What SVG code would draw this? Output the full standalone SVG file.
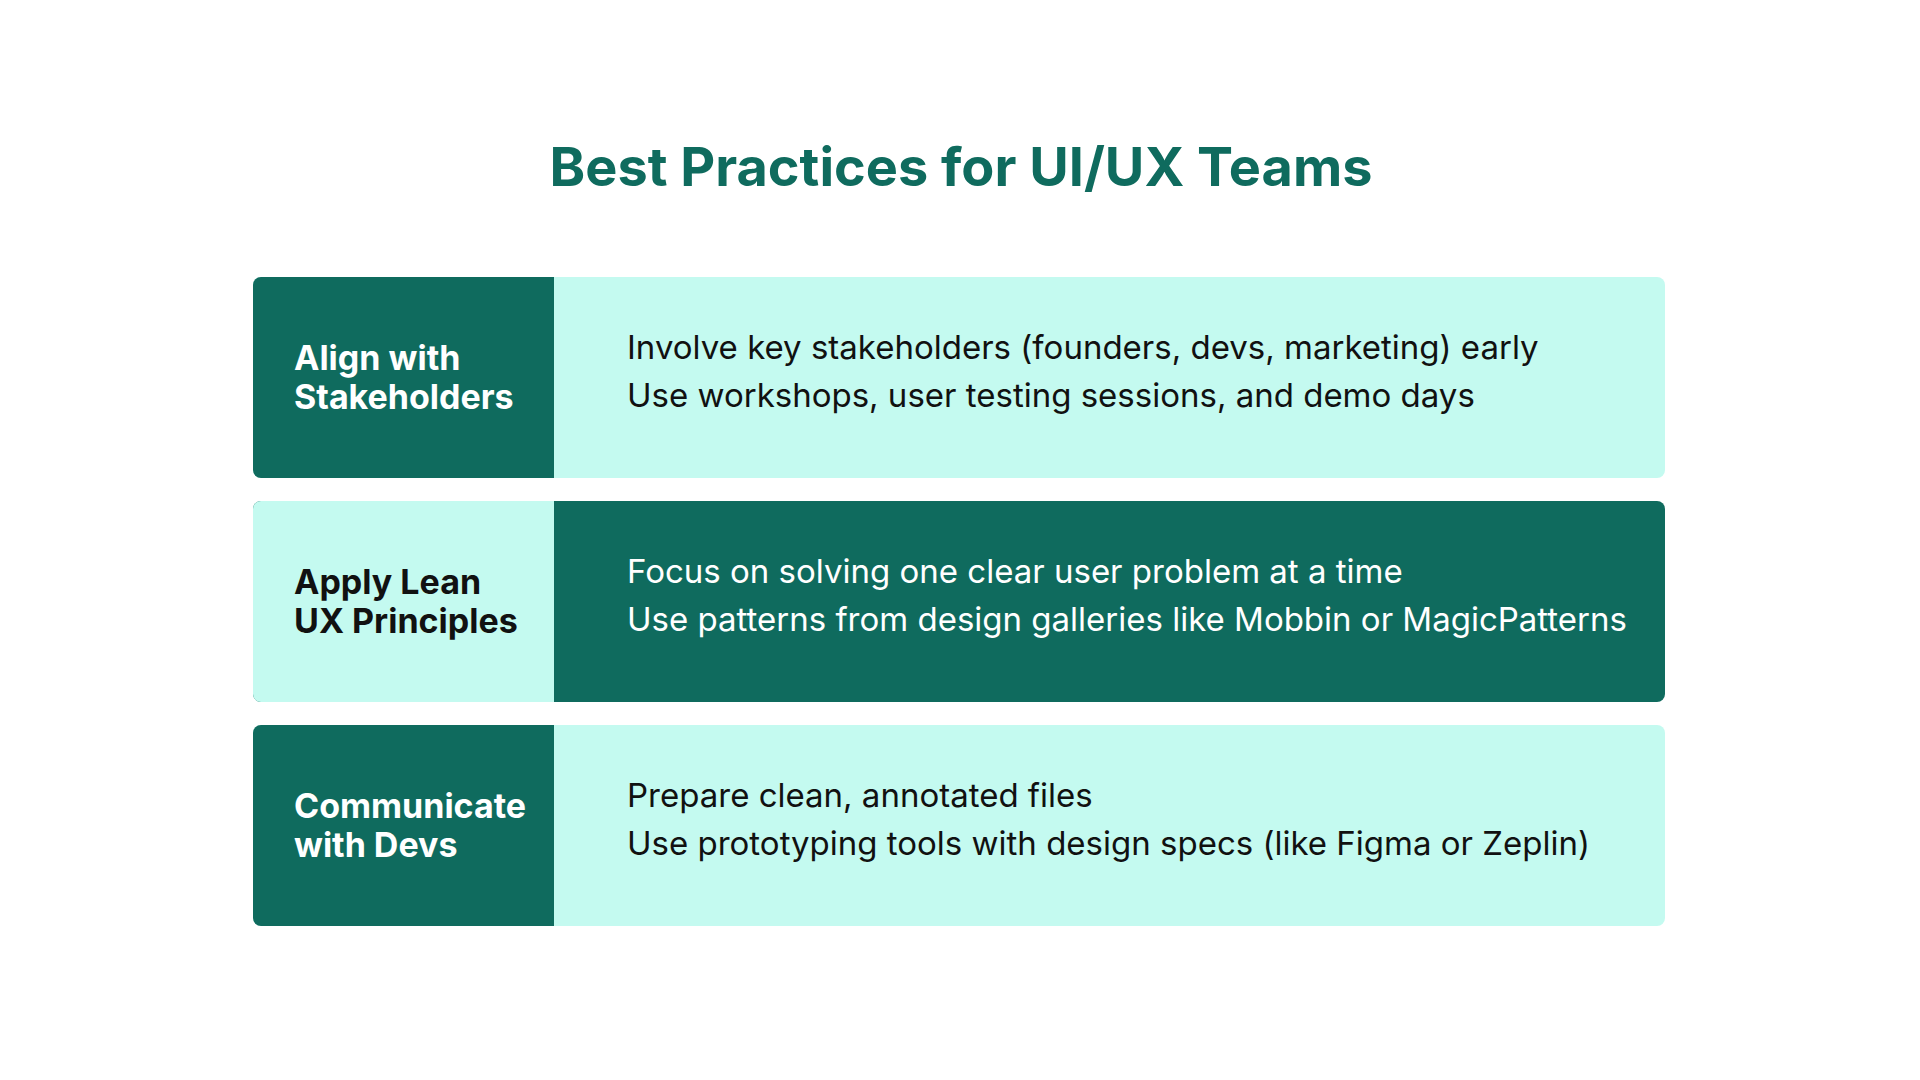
<svg xmlns="http://www.w3.org/2000/svg" width="1920" height="1080" viewBox="0 0 1920 1080">
<style>
.title{font-family:Inter,"Liberation Sans",sans-serif;font-weight:700;font-size:54px;fill:#0F6B5E}
.lab{font-family:Inter,"Liberation Sans",sans-serif;font-weight:700;font-size:34px}
.body{font-family:Inter,"Liberation Sans",sans-serif;font-size:33px}
.dark{fill:#0F6B5E}.light{fill:#C4FAF0}
.tw{fill:#FFFFFF}.tb{fill:#111111}
</style>
<rect width="1920" height="1080" fill="#FFFFFF"/>
<text class="title" x="961" y="186" text-anchor="middle">Best Practices for UI/UX Teams</text>
<g id="row1">
<rect class="light" x="253" y="277" width="1412" height="201" rx="8"/>
<path class="dark" d="M261 277H554V478H261A8 8 0 0 1 253 470V285A8 8 0 0 1 261 277Z"/>
<text class="lab tw" x="294" y="370">Align with</text>
<text class="lab tw" x="294" y="409">Stakeholders</text>
<text class="body tb" x="627" y="359">Involve key stakeholders (founders, devs, marketing) early</text>
<text class="body tb" x="627" y="407">Use workshops, user testing sessions, and demo days</text>
</g>
<g id="row2">
<rect class="dark" x="253" y="501" width="1412" height="201" rx="8"/>
<path class="light" d="M261 501H554V702H261A8 8 0 0 1 253 694V509A8 8 0 0 1 261 501Z"/>
<text class="lab tb" x="294" y="594">Apply Lean</text>
<text class="lab tb" x="294" y="633">UX Principles</text>
<text class="body tw" x="627" y="583">Focus on solving one clear user problem at a time</text>
<text class="body tw" x="627" y="631">Use patterns from design galleries like Mobbin or MagicPatterns</text>
</g>
<g id="row3">
<rect class="light" x="253" y="725" width="1412" height="201" rx="8"/>
<path class="dark" d="M261 725H554V926H261A8 8 0 0 1 253 918V733A8 8 0 0 1 261 725Z"/>
<text class="lab tw" x="294" y="818">Communicate</text>
<text class="lab tw" x="294" y="857">with Devs</text>
<text class="body tb" x="627" y="807">Prepare clean, annotated files</text>
<text class="body tb" x="627" y="855">Use prototyping tools with design specs (like Figma or Zeplin)</text>
</g>
<g id="connectors"/>
</svg>
